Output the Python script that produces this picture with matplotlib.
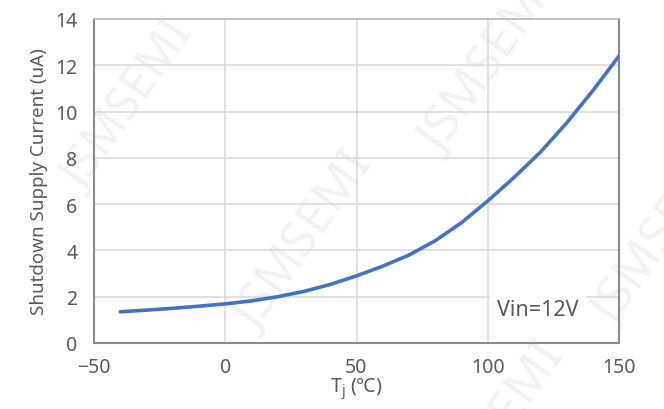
import numpy as np
import matplotlib.pyplot as plt

plt.rcParams['font.family'] = ['Noto Sans', 'DejaVu Sans']
plt.rcParams['mathtext.fontset'] = 'custom'
plt.rcParams['mathtext.rm'] = 'Noto Sans'
plt.rcParams['mathtext.it'] = 'Noto Sans'

# junction temperature (C) vs shutdown supply current (uA)
temp_c = [-40, -30, -20, -10, 0, 10, 20, 30, 40, 50, 60, 70, 80, 90,
          100, 110, 120, 130, 140, 150]
current_ua = [1.35, 1.42, 1.50, 1.59, 1.69, 1.82, 2.00, 2.23, 2.53, 2.90,
              3.32, 3.80, 4.42, 5.20, 6.14, 7.15, 8.24, 9.50, 10.90, 12.40]

x_ticks = [-50, 0, 50, 100, 150]
y_ticks = [0, 2, 4, 6, 8, 10, 12, 14]

text_gray = '#595959'

fig = plt.figure(figsize=(6.64, 4.10), dpi=100)

# faint JSMSEMI watermark behind everything
for (wx, wy, fs) in [(0.195, 0.74, 34), (0.46, 0.41, 36), (0.74, 0.84, 36),
                     (0.75, -0.06, 36), (1.0, 0.42, 36)]:
    fig.text(wx, wy, 'JSMSEMI', fontsize=fs, color='#f2f2f2', rotation=55,
             ha='center', va='center', zorder=-10)

ax = fig.add_axes([94 / 664, 1 - 344 / 410, 525 / 664, 324 / 410])
ax.patch.set_alpha(0)

ax.plot(temp_c, current_ua, color='#4472c4', lw=2.6, solid_capstyle='round',
        solid_joinstyle='round', zorder=3)

ax.set_xlim(-50, 150)
ax.set_ylim(0, 14)
ax.set_xticks(x_ticks)
ax.set_yticks(y_ticks)
ax.tick_params(length=0, labelsize=14, labelcolor=text_gray)
ax.tick_params(axis='y', pad=12)
ax.tick_params(axis='x', pad=10)
ax.grid(True, color='#d9d9d9', lw=1.1)
ax.set_axisbelow(True)

for side in ['left', 'bottom', 'right']:
    ax.spines[side].set_color('#8a8a8a')
    ax.spines[side].set_linewidth(1.5)
ax.spines['top'].set_color('#b8b8b8')
ax.spines['top'].set_linewidth(1.2)

ax.set_ylabel('Shutdown Supply Current (uA)', fontsize=13.5, color=text_gray, labelpad=5)
ax.set_xlabel(r'T$_\mathrm{j}$ (℃)', fontsize=14, color=text_gray, labelpad=-1)

ax.text(0.768, 0.102, 'Vin=12V', transform=ax.transAxes, fontsize=15.5,
        color=text_gray, va='center', ha='left', zorder=4,
        bbox=dict(facecolor='white', edgecolor='none', pad=5))

fig.savefig('out.png', dpi=100)
